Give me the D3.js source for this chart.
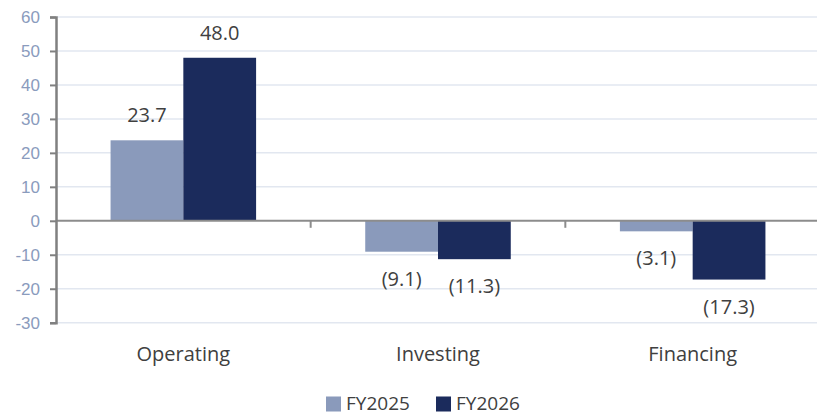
<!DOCTYPE html>
<html>
<head>
<meta charset="utf-8">
<script src="https://cdn.jsdelivr.net/npm/d3@7"></script>
<style>
  html, body { margin: 0; padding: 0; background: #fff; }
  svg { display: block; }
</style>
</head>
<body>
<div id="chart"></div>
<script>
const categories = ["Operating", "Investing", "Financing"];
const series = ["FY2025", "FY2026"];
const fy2025 = [23.7, -9.1, -3.1];
const fy2026 = [48.0, -11.3, -17.3];
const yTicks = [-30, -20, -10, 0, 10, 20, 30, 40, 50, 60];

const colors = { FY2025: "#8a9abb", FY2026: "#1b2b5c" };
const labelFont = "'Open Sans', sans-serif";
const textColor = "#404040";

const W = 817, H = 415;
const svg = d3.select("#chart").append("svg").attr("width", W).attr("height", H);

const y = d3.scaleLinear().domain([-30, 60]).range([322.7, 17]);
const x = d3.scaleBand().domain(categories).range([56, 820]).padding(0);
const xs = d3.scaleBand().domain(series).range([0, x.bandwidth()]).paddingInner(0).paddingOuter(0.75);

const rows = categories.map((c, i) => ({ cat: c, FY2025: fy2025[i], FY2026: fy2026[i] }));

// gridlines
svg.append("g").selectAll("line")
  .data(yTicks.filter(t => t !== 0))
  .join("line")
  .attr("x1", 57).attr("x2", W)
  .attr("y1", d => y(d)).attr("y2", d => y(d))
  .attr("stroke", "#e2e7f0").attr("stroke-width", 1.5);

// bars
const groups = svg.append("g").selectAll("g")
  .data(rows)
  .join("g")
  .attr("transform", d => `translate(${x(d.cat)},0)`);

groups.selectAll("rect")
  .data(d => series.map(s => ({ s, v: d[s] })))
  .join("rect")
  .attr("x", d => xs(d.s))
  .attr("width", xs.bandwidth())
  .attr("y", d => y(Math.max(0, d.v)))
  .attr("height", d => Math.abs(y(d.v) - y(0)))
  .attr("fill", d => colors[d.s]);

// value labels, negatives in brackets
const fmt = v => v < 0 ? `(${d3.format(".1f")(-v)})` : d3.format(".1f")(v);
groups.selectAll("text")
  .data(d => series.map(s => ({ s, v: d[s] })))
  .join("text")
  .attr("x", d => xs(d.s) + xs.bandwidth() / 2)
  .attr("y", d => d.v >= 0 ? y(d.v) - 18 : y(d.v) + 34)
  .attr("text-anchor", "middle")
  .attr("font-family", labelFont)
  .attr("font-size", 20)
  .attr("fill", textColor)
  .text(d => fmt(d.v));

// zero line with category ticks
svg.append("line")
  .attr("x1", 56).attr("x2", W)
  .attr("y1", y(0)).attr("y2", y(0))
  .attr("stroke", "#8c8c8c").attr("stroke-width", 2);
svg.append("g").selectAll("line")
  .data(categories.slice(1))
  .join("line")
  .attr("x1", d => x(d)).attr("x2", d => x(d))
  .attr("y1", y(0)).attr("y2", y(0) + 7)
  .attr("stroke", "#8c8c8c").attr("stroke-width", 2);

// y axis
const yAxis = svg.append("g")
  .attr("transform", "translate(56,0)")
  .call(d3.axisLeft(y).tickValues(yTicks).tickSize(6).tickPadding(10).tickFormat(d => String(d)));
yAxis.select(".domain").attr("stroke", "#808080").attr("stroke-width", 2.5);
yAxis.selectAll(".tick line").attr("stroke", "#808080").attr("stroke-width", 2);
yAxis.selectAll(".tick text")
  .attr("font-family", "'Liberation Sans', Arial, sans-serif")
  .attr("font-size", 17)
  .attr("fill", "#8a9bbd");

// category labels
svg.append("g").selectAll("text")
  .data(categories)
  .join("text")
  .attr("x", d => x(d) + x.bandwidth() / 2)
  .attr("y", 361)
  .attr("text-anchor", "middle")
  .attr("font-family", labelFont)
  .attr("font-size", 20)
  .attr("fill", textColor)
  .text(d => d);

// legend
const legX = d3.scaleBand().domain(series).range([326, 546]);
const leg = svg.append("g").selectAll("g")
  .data(series)
  .join("g")
  .attr("transform", d => `translate(${legX(d)},0)`);
leg.append("rect")
  .attr("x", 0).attr("y", 396.5).attr("width", 15).attr("height", 15)
  .attr("fill", d => colors[d]);
leg.append("text")
  .attr("x", 20).attr("y", 409.5)
  .attr("font-family", labelFont)
  .attr("font-size", 19)
  .attr("fill", textColor)
  .text(d => d);
</script>
</body>
</html>
